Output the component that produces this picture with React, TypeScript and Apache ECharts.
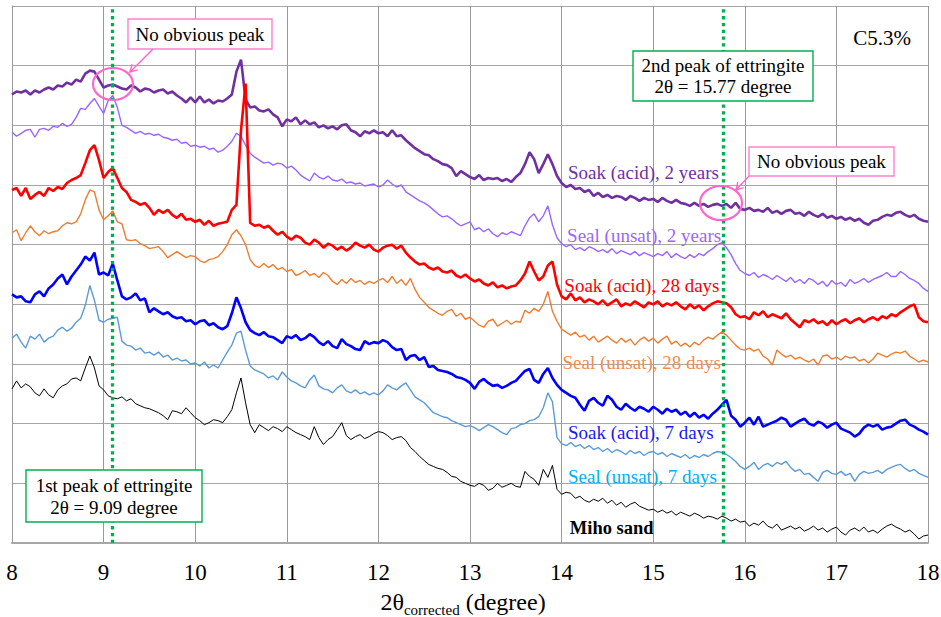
import React, { useEffect, useRef } from "react";
import * as echarts from "echarts";

// 2θ sampling grid (degree): 8.00 … 18.00 in 0.05 steps
const twoTheta: number[] = Array.from({ length: 201 }, (_, i) => +(8 + i * 0.05).toFixed(2));

// Stacked XRD intensities (a.u., offset per pattern)
const soakAcid2y = [
  451, 454, 453, 455, 451, 455, 453, 456, 458, 456,
  460, 459, 463, 461, 466, 464, 472, 475, 474, 466,
  458, 460, 461, 459, 457, 456, 460, 458, 454, 457,
  456, 453, 455, 456, 452, 454, 450, 447, 443, 448,
  443, 449, 443, 446, 442, 445, 444, 447, 451, 474,
  486, 446, 438, 439, 435, 434, 436, 431, 428, 419,
  426, 424, 428, 421, 425, 421, 423, 418, 420, 417,
  419, 416, 420, 421, 415, 413, 409, 414, 412, 415,
  412, 413, 409, 415, 409, 410, 405, 401, 397, 394,
  391, 390, 386, 384, 381, 380, 377, 369, 374, 371,
  368, 366, 370, 365, 367, 366, 367, 364, 366, 363,
  368, 372, 381, 393, 386, 372, 381, 391, 381, 369,
  362, 358, 360, 356, 357, 353, 355, 349, 352, 348,
  350, 347, 349, 348, 345, 349, 347, 344, 347, 345,
  346, 343, 347, 344, 342, 345, 342, 341, 339, 342,
  339, 341, 338, 340, 341, 339, 341, 337, 342, 336,
  335, 337, 334, 335, 333, 337, 332, 334, 331, 334,
  335, 331, 332, 329, 333, 330, 328, 331, 327, 329,
  326, 328, 325, 327, 324, 326, 322, 320, 324, 325,
  328, 330, 329, 332, 333, 330, 328, 330, 326, 324,
  323,
];

const sealUnsat2y = [
  413, 409, 412, 415, 416, 408, 416, 417, 415, 419,
  418, 422, 419, 421, 428, 437, 436, 442, 447, 439,
  432, 445, 450, 438, 420, 418, 415, 412, 414, 411,
  412, 410, 411, 408, 407, 405, 406, 402, 403, 399,
  400, 398, 399, 396, 397, 393, 395, 399, 404, 412,
  409, 400, 392, 388, 385, 382, 383, 380, 382, 381,
  377, 379, 375, 370, 367, 364, 372, 368, 366, 369,
  365, 364, 366, 362, 363, 361, 362, 359, 360, 361,
  358, 360, 365, 361, 358, 360, 353, 350, 347, 344,
  342, 339, 335, 331, 328, 329, 326, 322, 319, 321,
  323, 315, 317, 313, 316, 311, 308, 312, 310, 313,
  311, 309, 319, 327, 331, 323, 329, 339, 320, 307,
  301, 298, 300, 295, 297, 294, 298, 296, 293, 295,
  292, 296, 291, 294, 292, 290, 293, 289, 292, 290,
  288, 291, 289, 293, 287, 291, 288, 286, 290, 287,
  291, 289, 293, 296, 300, 302, 297, 290, 281, 274,
  271, 269, 272, 267, 270, 268, 265, 269, 266, 263,
  267, 262, 265, 261, 266, 264, 260, 263, 258, 264,
  260, 262, 258, 265, 261, 263, 266, 262, 265, 267,
  269, 272, 268, 268, 273, 270, 266, 264, 261, 256,
  253,
];

const soakAcid28d = [
  355, 357, 349, 357, 346, 350, 353, 349, 357, 354,
  358, 356, 362, 365, 367, 370, 382, 395, 400, 385,
  367, 373, 377, 367, 357, 353, 345, 343, 340, 342,
  337, 330, 335, 332, 335, 330, 327, 331, 325, 326,
  323, 325, 320, 324, 319, 321, 322, 323, 335, 340,
  415, 462, 322, 319, 320, 317, 319, 314, 310, 313,
  308, 305, 309, 307, 302, 300, 305, 302, 297, 301,
  299, 295, 298, 294, 297, 302, 299, 297, 300, 295,
  293, 297, 299, 300, 296, 299, 292, 287, 283, 280,
  281, 277, 275, 277, 273, 272, 274, 269, 267, 270,
  266, 263, 265, 261, 259, 262, 257, 259, 256, 258,
  259, 264, 271, 283, 273, 264, 268, 279, 283, 260,
  248, 245, 251, 244, 247, 242, 245, 243, 240, 244,
  239, 242, 245, 238, 241, 239, 243, 240, 237, 242,
  240, 243, 238, 241, 239, 242, 238, 235, 240, 236,
  239, 234, 238, 241, 243, 242, 241, 237, 230, 227,
  228, 225, 232, 229, 233, 227, 230, 228, 226, 231,
  225, 221, 217, 224, 222, 225, 221, 223, 219, 224,
  220, 223, 225, 221, 224, 226, 222, 225, 227, 224,
  228, 226, 230, 228, 232, 235, 238, 240, 227, 223,
  222,
];

const sealUnsat28d = [
  312, 315, 304, 312, 319, 313, 309, 314, 311, 313,
  314, 319, 322, 321, 323, 331, 345, 355, 353, 335,
  325, 329, 334, 323, 321, 305, 304, 305, 301, 299,
  296, 297, 298, 293, 287, 290, 293, 290, 287, 289,
  288, 284, 282, 285, 286, 288, 293, 300, 310, 315,
  309, 300, 285, 279, 277, 281, 277, 280, 275, 277,
  273, 275, 269, 271, 274, 269, 271, 267, 272, 269,
  263, 260, 265, 261, 266, 262, 264, 260, 263, 261,
  264, 266, 262, 268, 261, 265, 259, 266, 255, 247,
  242, 237, 234, 231, 229, 233, 235, 228, 231, 225,
  227, 223, 219, 217, 223, 225, 218, 221, 224, 220,
  223, 222, 234, 231, 236, 233, 240, 253, 233, 223,
  215, 212, 209, 212, 207, 209, 204, 208, 202, 205,
  208, 204, 201, 206, 202, 205, 199, 204, 207, 203,
  206, 201, 205, 208, 200, 203, 198, 201, 197, 202,
  199, 204, 207, 205, 209, 212, 209, 204, 199, 195,
  194, 196, 193, 195, 188, 185, 179, 194, 190, 187,
  189, 185, 187, 184, 182, 185, 179, 188, 189, 185,
  187, 184, 188, 186, 187, 183, 185, 181, 185, 191,
  189, 187, 190, 192, 191, 193, 188, 185, 182, 184,
  182,
];

const soakAcid7d = [
  250, 247, 248, 243, 242, 250, 253, 248, 256, 260,
  266, 270, 260, 268, 274, 280, 288, 284, 292, 270,
  272, 269, 281, 264, 248, 245, 247, 251, 244, 246,
  232, 236, 233, 230, 232, 228, 226, 227, 223, 224,
  220, 223, 224, 219, 221, 217, 215, 218, 231, 247,
  236, 222, 214, 211, 209, 212, 208, 207, 204, 201,
  208, 206, 209, 204, 206, 210, 207, 202, 199, 203,
  198, 196, 205, 200, 198, 195, 194, 203, 200, 202,
  201, 204, 202, 197, 194, 195, 184, 188, 189, 184,
  187, 177, 178, 174, 173, 172, 170, 167, 166, 164,
  161, 155, 162, 165, 161, 158, 159, 156, 158, 161,
  163, 168, 173, 175, 164, 161, 170, 176, 166, 159,
  154, 151, 148, 146, 139, 133, 143, 146, 141, 138,
  148, 144, 137, 134, 140, 136, 133, 137, 135, 132,
  137, 134, 130, 135, 132, 134, 129, 132, 127, 131,
  126, 129, 125, 130, 134, 139, 144, 128, 124, 117,
  121, 126, 119, 127, 117, 119, 121, 123, 126, 124,
  117, 120, 123, 125, 120, 118, 122, 120, 116, 119,
  121, 115, 113, 111, 107, 110, 116, 119, 117, 119,
  114, 116, 117, 120, 123, 124, 119, 117, 114, 112,
  109,
];

const sealUnsat7d = [
  206, 210, 202, 196, 208, 205, 210, 202, 206, 208,
  214, 217, 213, 216, 222, 226, 239, 259, 244, 224,
  222, 225, 226, 227, 203, 199, 198, 194, 196, 191,
  192, 189, 192, 187, 189, 184, 186, 183, 184, 180,
  181, 178, 182, 176, 179, 176, 184, 192, 199, 211,
  213, 194, 178, 174, 172, 170, 166, 168, 164, 172,
  167, 163, 161, 158, 156, 164, 169, 158, 155, 154,
  151, 156, 159, 153, 151, 154, 150, 152, 149, 151,
  149, 153, 159, 156, 154, 158, 161, 154, 147, 144,
  141, 136, 131, 129, 127, 126, 123, 121, 119, 117,
  118, 116, 113, 116, 119, 117, 114, 111, 109, 115,
  116, 119, 120, 123, 124, 127, 136, 151, 142, 106,
  100, 98, 101, 97, 99, 95, 98, 94, 96, 92,
  95, 91, 94, 92, 89, 93, 90, 92, 88, 91,
  92, 89, 91, 87, 90, 88, 86, 89, 85, 88,
  86, 89, 87, 90, 92, 91, 89, 86, 82, 77,
  74, 77, 81, 74, 78, 80, 77, 81, 79, 82,
  76, 72, 74, 69, 70, 66, 62, 71, 73, 70,
  69, 72, 68, 70, 62, 69, 72, 70, 71, 73,
  70, 74, 76, 78, 79, 75, 72, 74, 70, 68,
  66,
];

const mihoSand = [
  155, 163, 156, 160, 157, 151, 148, 155, 149, 146,
  154, 158, 160, 165, 166, 163, 176, 188, 176, 158,
  154, 148, 146, 145, 147, 143, 145, 140, 138, 136,
  135, 133, 131, 128, 124, 133, 132, 130, 136, 131,
  126, 123, 119, 121, 124, 123, 121, 127, 134, 151,
  166, 141, 119, 111, 119, 116, 113, 117, 115, 112,
  117, 114, 111, 109, 107, 104, 117, 106, 99, 104,
  107, 114, 121, 108, 104, 107, 109, 105, 107, 110,
  112, 111, 108, 104, 106, 107, 103, 96, 92, 87,
  83, 79, 77, 75, 74, 71, 67, 66, 62, 60,
  58, 57, 60, 58, 53, 55, 60, 56, 58, 60,
  57, 56, 72, 67, 64, 58, 74, 66, 78, 54,
  49, 51, 50, 45, 47, 43, 41, 44, 42, 45,
  40, 43, 38, 41, 36, 39, 41, 37, 35, 33,
  34, 31, 33, 30, 32, 28, 31, 29, 27, 30,
  28, 25, 27, 26, 24, 27, 25, 22, 24, 21,
  22, 17, 20, 18, 22, 17, 15, 19, 13, 15,
  17, 14, 16, 12, 14, 17, 13, 15, 11, 14,
  16, 11, 8, 13, 15, 12, 16, 11, 13, 10,
  14, 17, 19, 16, 14, 11, 13, 9, 4, 7,
  8,
];

// Ettringite reference peaks (2θ, degree)
const ettringitePeaks = [9.09, 15.77];

const FONT = "'Liberation Serif', 'Times New Roman', serif";
const GREEN = "#00b050";
const PINK = "#ff66cc";

type Pattern = {
  name: string;
  values: number[];
  color: string;
  width: number;
  labelColor: string;
  labelAt: [number, number];
  bold?: boolean;
};

const patterns: Pattern[] = [
  { name: "Soak (acid), 2 years", values: soakAcid2y, color: "#7030a0", width: 2.6, labelColor: "#7030a0", labelAt: [14.07, 373] },
  { name: "Seal (unsat), 2 years", values: sealUnsat2y, color: "#9966ff", width: 1.4, labelColor: "#9966ff", labelAt: [14.06, 309] },
  { name: "Soak (acid), 28 days", values: soakAcid28d, color: "#ff0000", width: 2.6, labelColor: "#ff0000", labelAt: [14.03, 259] },
  { name: "Seal (unsat), 28 days", values: sealUnsat28d, color: "#ed7d31", width: 1.4, labelColor: "#f08c50", labelAt: [14.01, 182] },
  { name: "Soak (acid), 7 days", values: soakAcid7d, color: "#0000ff", width: 2.6, labelColor: "#1a1ae6", labelAt: [14.07, 111] },
  { name: "Seal (unsat), 7 days", values: sealUnsat7d, color: "#5b9bd5", width: 1.4, labelColor: "#00b0f0", labelAt: [14.07, 67] },
  { name: "Miho sand", values: mihoSand, color: "#000000", width: 1, labelColor: "#000000", labelAt: [14.09, 15], bold: true },
];

function arrowHead(tip: [number, number], from: [number, number], len: number): number[][] {
  const dx = from[0] - tip[0];
  const dy = from[1] - tip[1];
  const d = Math.hypot(dx, dy);
  const ux = dx / d;
  const uy = dy / d;
  const a = Math.PI / 6;
  const r1 = [ux * Math.cos(a) - uy * Math.sin(a), ux * Math.sin(a) + uy * Math.cos(a)];
  const r2 = [ux * Math.cos(-a) - uy * Math.sin(-a), ux * Math.sin(-a) + uy * Math.cos(-a)];
  return [
    [tip[0] + r1[0] * len, tip[1] + r1[1] * len],
    tip,
    [tip[0] + r2[0] * len, tip[1] + r2[1] * len],
  ];
}

function calloutBox(x: number, y: number, w: number, h: number, text: string, stroke: string, lineHeight = 21): any[] {
  return [
    { type: "rect", z: 100, shape: { x, y, width: w, height: h }, style: { fill: "#ffffff", stroke, lineWidth: 1.4 } },
    {
      type: "text",
      z: 101,
      style: {
        text,
        x: x + w / 2,
        y: y + h / 2,
        align: "center",
        verticalAlign: "middle",
        fill: "#000",
        fontSize: 19,
        fontFamily: FONT,
        lineHeight,
      },
    },
  ];
}

function pinkArrow(from: [number, number], tip: [number, number]): any[] {
  return [
    { type: "line", z: 100, shape: { x1: from[0], y1: from[1], x2: tip[0], y2: tip[1] }, style: { stroke: PINK, lineWidth: 1.4 } },
    { type: "polyline", z: 100, shape: { points: arrowHead(tip, from, 8) }, style: { stroke: PINK, lineWidth: 1.4, fill: "none" } },
  ];
}

export default function App() {
  const ref = useRef<HTMLDivElement>(null);

  useEffect(() => {
    if (!ref.current) return;
    const chart = echarts.init(ref.current, undefined, { renderer: "svg" });

    const series: any[] = patterns.map((p, k) => ({
      name: p.name,
      type: "line",
      symbol: "none",
      showSymbol: false,
      silent: true,
      z: 2 + k * 0.01,
      lineStyle: { color: p.color, width: p.width },
      data: twoTheta.map((x, i) => [x, p.values[i]]),
    }));

    series.push({
      name: "ettringite",
      type: "line",
      data: [],
      silent: true,
      z: 5,
      markLine: {
        silent: true,
        symbol: "none",
        animation: false,
        label: { show: false },
        lineStyle: { color: GREEN, type: [3.3, 3.5], width: 3.3 },
        data: ettringitePeaks.map((v) => ({ xAxis: v })),
      },
    });

    chart.setOption({
      animation: false,
      backgroundColor: "#ffffff",
      textStyle: { fontFamily: FONT },
      grid: { left: 12, right: 13, top: 6, bottom: 74, containLabel: false, outerBoundsMode: "none" },
      xAxis: {
        type: "value",
        min: 8,
        max: 18,
        interval: 1,
        axisLine: { show: true, onZero: false, lineStyle: { color: "#a6a6a6", width: 2 } },
        axisTick: { show: false },
        axisLabel: { color: "#000", fontSize: 23, fontFamily: FONT, margin: 18 },
        splitLine: { show: true, lineStyle: { color: "#999999", width: 1 } },
        name: "{a|2θ}{b|corrected}{a| (degree)}",
        nameLocation: "middle",
        nameGap: 44,
        nameTextStyle: {
          color: "#000",
          fontFamily: FONT,
          fontSize: 24,
          padding: [0, 14, 0, 0],
          rich: {
            a: { fontSize: 24, fontFamily: FONT, color: "#000", lineHeight: 30, verticalAlign: "middle" },
            b: { fontSize: 15, fontFamily: FONT, color: "#000", lineHeight: 13, verticalAlign: "bottom" },
          },
        },
      },
      yAxis: {
        type: "value",
        min: 0,
        max: 540,
        interval: 60,
        axisLine: { show: true, lineStyle: { color: "#999999", width: 1 } },
        axisTick: { show: false },
        axisLabel: { show: false },
        splitLine: { show: true, lineStyle: { color: "#a6a6a6", width: 1 } },
      },
      series,
    });

    const labels = patterns.map((p) => {
      const [px, py] = chart.convertToPixel({ xAxisIndex: 0, yAxisIndex: 0 }, p.labelAt) as number[];
      return {
        type: "text",
        z: 90,
        silent: true,
        style: {
          text: p.name,
          x: px,
          y: py,
          align: "left",
          verticalAlign: "middle",
          fill: p.labelColor,
          fontSize: p.bold ? 18.5 : 19,
          fontWeight: p.bold ? "bold" : "normal",
          fontFamily: FONT,
        },
      };
    });

    const annotations: any[] = [
      // left "No obvious peak" callout
      ...calloutBox(128, 19, 144, 30, "No obvious peak", "#ff80d0"),
      { type: "ellipse", z: 100, shape: { cx: 113, cy: 84, rx: 20, ry: 16 }, style: { fill: "none", stroke: PINK, lineWidth: 2.2 } },
      ...pinkArrow([153, 49], [130, 72]),
      // right "No obvious peak" callout
      ...calloutBox(749, 147, 145, 29, "No obvious peak", "#ff80d0"),
      { type: "ellipse", z: 100, shape: { cx: 721, cy: 203, rx: 21, ry: 17 }, style: { fill: "none", stroke: PINK, lineWidth: 2.2 } },
      ...pinkArrow([749, 176], [736, 190]),
      // ettringite peak boxes
      ...calloutBox(633, 51, 180, 50, "2nd peak of ettringite\n2θ = 15.77 degree", GREEN, 21),
      ...calloutBox(26, 470, 176, 52, "1st peak of ettringite\n2θ = 9.09 degree", GREEN, 22),
      {
        type: "text",
        z: 100,
        style: { text: "C5.3%", x: 882, y: 38, align: "center", verticalAlign: "middle", fill: "#000", fontSize: 21, fontFamily: FONT },
      },
    ];

    chart.setOption({ graphic: [...labels, ...annotations] });

    return () => chart.dispose();
  }, []);

  return (
    <div
      ref={ref}
      style={{ position: "fixed", left: 0, top: 0, width: 941, height: 617, background: "#ffffff" }}
    />
  );
}
